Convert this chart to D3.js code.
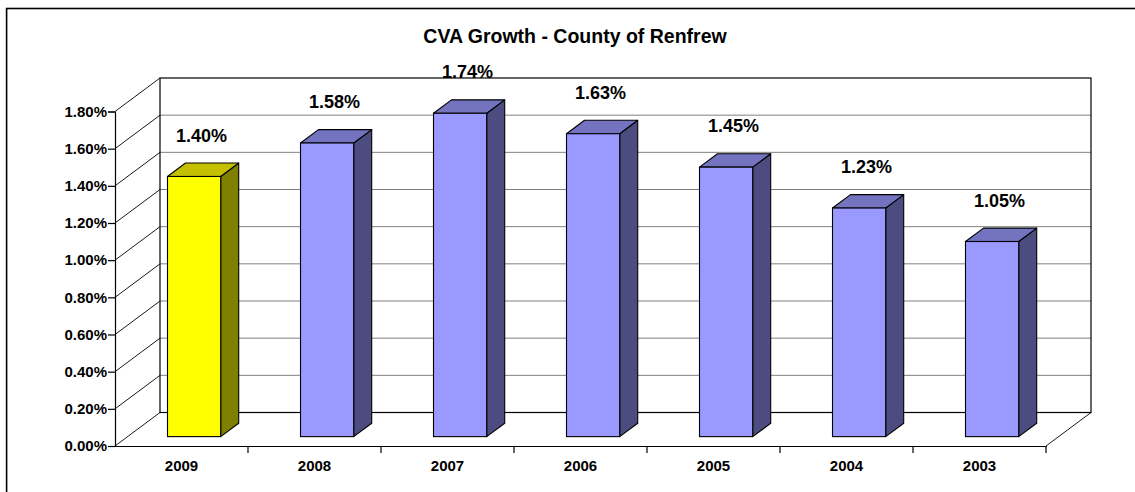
<!DOCTYPE html>
<html>
<head>
<meta charset="utf-8">
<script src="https://cdnjs.cloudflare.com/ajax/libs/d3/7.8.5/d3.min.js"></script>
<style>
  body { margin: 0; background: #fff; }
  svg { display: block; font-family: Arial, "Liberation Sans", sans-serif; }
</style>
</head>
<body>
<svg id="chart" width="1135" height="492"></svg>
<script>
// chart data
const categories = ["2009", "2008", "2007", "2006", "2005", "2004", "2003"];
const growth = [1.40, 1.58, 1.74, 1.63, 1.45, 1.23, 1.05];
const yTicks = [0, 0.2, 0.4, 0.6, 0.8, 1.0, 1.2, 1.4, 1.6, 1.8];
const title = "CVA Growth - County of Renfrew";

const W = 1135, H = 492;
const left = 115, right = 1046, floorY = 446, topY = 111.5;
const depthX = 45, depthY = -33.5;   // 3d depth of the plot box
const barFront = 0.28, barDepth = 0.40; // bar placement as part of the depth

const svg = d3.select("#chart");

// outer chart border (only top & left show in the picture)
svg.append("rect")
  .attr("x", 6.6).attr("y", 8.5)
  .attr("width", W + 20).attr("height", H + 20)
  .attr("fill", "none").attr("stroke", "#000").attr("stroke-width", 1.6);

let y = d3.scaleLinear().domain([0, 1.8]).range([floorY, topY]);
let x = d3.scaleBand().domain(categories).range([left, right]).paddingInner(0.6).paddingOuter(0.3);
let xCat = d3.scaleBand().domain(categories).range([left, right]);

svg.append("text")
  .attr("x", 575).attr("y", 42.5)
  .attr("text-anchor", "middle")
  .style("font-size", "19.5px").style("font-weight", "bold")
  .text(title);

// back wall gridlines
let walls = svg.append("g");
walls.selectAll("line.grid")
  .data(yTicks.slice(1, -1))
  .enter().append("line")
  .attr("class", "grid")
  .attr("x1", left + depthX).attr("x2", right + depthX)
  .attr("y1", d => y(d) + depthY).attr("y2", d => y(d) + depthY)
  .attr("stroke", "#808080").attr("stroke-width", 1);

// side wall diagonals
walls.selectAll("line.diag")
  .data(yTicks)
  .enter().append("line")
  .attr("class", "diag")
  .attr("x1", left).attr("x2", left + depthX)
  .attr("y1", d => y(d)).attr("y2", d => y(d) + depthY)
  .attr("stroke", "#000").attr("stroke-width", 0.9);

// back wall box
walls.append("rect")
  .attr("x", left + depthX).attr("y", y(1.8) + depthY)
  .attr("width", right - left).attr("height", y(0) - y(1.8))
  .attr("fill", "none").attr("stroke", "#000").attr("stroke-width", 1.2);

// floor right edge
walls.append("line")
  .attr("x1", right).attr("y1", y(0))
  .attr("x2", right + depthX).attr("y2", y(0) + depthY)
  .attr("stroke", "#000").attr("stroke-width", 0.9);

// y axis
svg.append("g")
  .attr("transform", "translate(" + left + ",0)")
  .call(d3.axisLeft(y).tickValues(yTicks).tickSize(7).tickPadding(1).tickFormat(d => d.toFixed(2) + "%"))
  .call(g => g.selectAll("line, path").attr("stroke", "#000").attr("stroke-width", 1.2))
  .call(g => g.selectAll("text").style("font-size", "15px").style("font-weight", "bold").attr("fill", "#000").attr("font-family", null));

// x axis
let xAxis = svg.append("g")
  .attr("transform", "translate(0," + floorY + ")")
  .call(d3.axisBottom(xCat).tickSize(0).tickPadding(14).tickSizeOuter(0))
  .call(g => g.select("path").attr("stroke", "#000").attr("stroke-width", 1.2))
  .call(g => g.selectAll("text").style("font-size", "15px").style("font-weight", "bold").attr("fill", "#000").attr("font-family", null));

xAxis.selectAll("line.sep")
  .data(categories.slice(1).concat(["end"]))
  .enter().append("line")
  .attr("class", "sep")
  .attr("x1", (d, i) => left + xCat.step() * (i + 1))
  .attr("x2", (d, i) => left + xCat.step() * (i + 1))
  .attr("y1", 0).attr("y2", 7)
  .attr("stroke", "#000").attr("stroke-width", 1.2);

// 3d bars
const ox = depthX * barFront, oy = depthY * barFront;
const dx = depthX * barDepth, dy = depthY * barDepth;
const colors = [
  { front: "#ffff00", top: "#c4c000", side: "#808000" },
  { front: "#9999ff", top: "#7373bf", side: "#4c4c80" }
];

let bars = svg.selectAll("g.bar")
  .data(categories.map((c, i) => ({ cat: c, value: growth[i], col: i == 0 ? colors[0] : colors[1] })))
  .enter().append("g")
  .attr("class", "bar");

bars.each(function (d) {
  let g = d3.select(this);
  let x0 = x(d.cat) + ox, x1 = x0 + x.bandwidth();
  let yb = y(0) + oy, yt = y(d.value) + oy;
  g.append("path")
    .attr("d", `M${x1},${yb}L${x1 + dx},${yb + dy}L${x1 + dx},${yt + dy}L${x1},${yt}Z`)
    .attr("fill", d.col.side).attr("stroke", "#000").attr("stroke-width", 1.1).attr("stroke-linejoin", "round");
  g.append("path")
    .attr("d", `M${x0},${yt}L${x0 + dx},${yt + dy}L${x1 + dx},${yt + dy}L${x1},${yt}Z`)
    .attr("fill", d.col.top).attr("stroke", "#000").attr("stroke-width", 1.1).attr("stroke-linejoin", "round");
  g.append("rect")
    .attr("x", x0).attr("y", yt)
    .attr("width", x.bandwidth()).attr("height", yb - yt)
    .attr("fill", d.col.front).attr("stroke", "#000").attr("stroke-width", 1.1);
});

// value labels
svg.selectAll("text.val")
  .data(growth)
  .enter().append("text")
  .attr("class", "val")
  .attr("x", (d, i) => xCat(categories[i]) + xCat.bandwidth() / 2 + 20)
  .attr("y", d => y(d) + depthY / 2 - 34 + 6.5)
  .attr("text-anchor", "middle")
  .style("font-size", "18px").style("font-weight", "bold")
  .text(d => d.toFixed(2) + "%");
</script>
</body>
</html>
